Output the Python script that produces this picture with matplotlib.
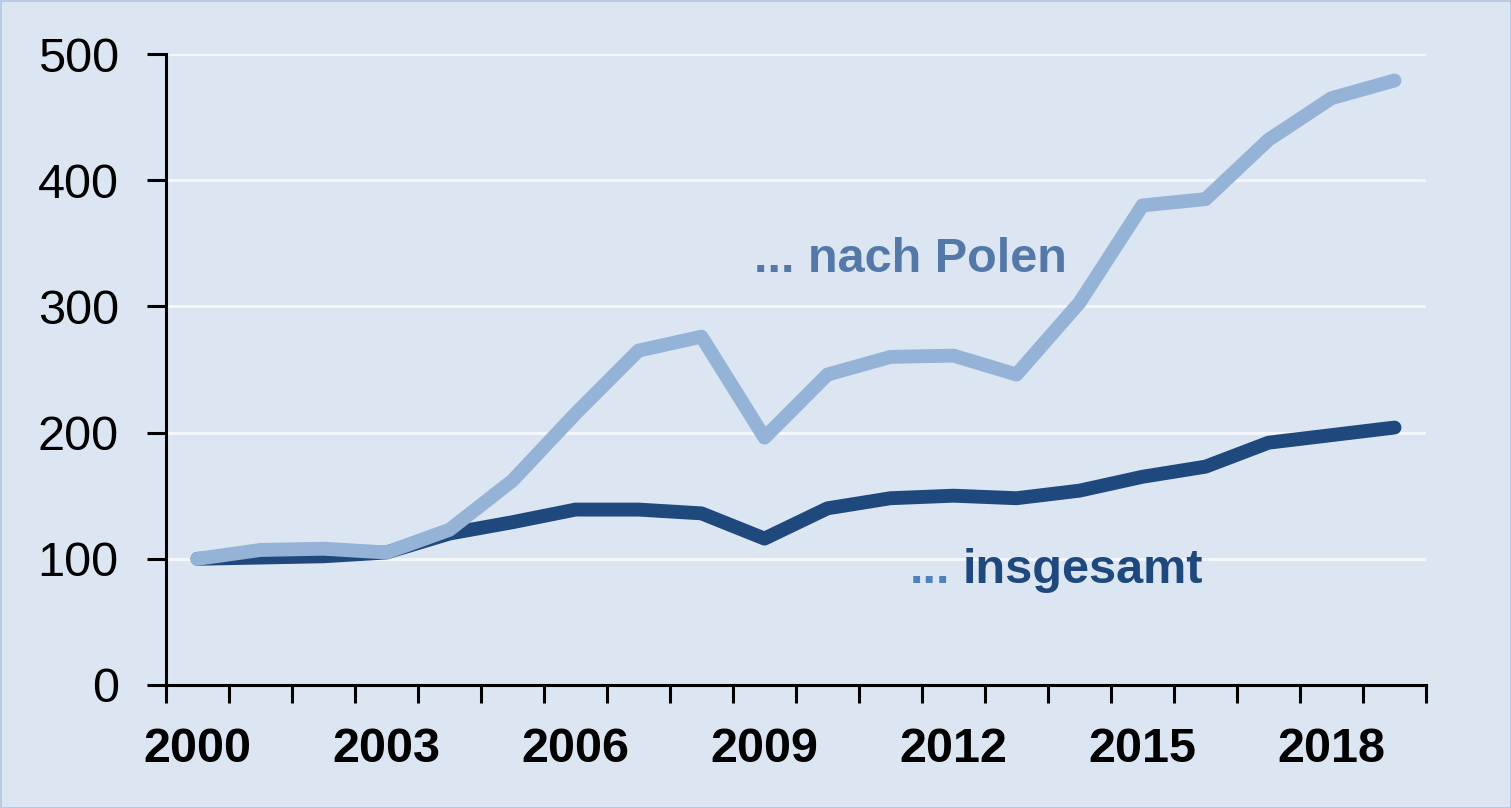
import matplotlib
matplotlib.use("Agg")
import matplotlib.pyplot as plt
from matplotlib.ticker import FixedLocator, NullFormatter

plt.rcParams['font.family'] = ['Liberation Sans', 'DejaVu Sans']

years = list(range(2000, 2020))
polen = [100, 107, 108, 105, 123, 162, 215, 265, 276, 196,
         246, 260, 261, 246, 303, 380, 385, 432, 465, 479]
insgesamt = [100, 101, 102, 105, 120, 129, 139, 139, 136, 116,
             140, 148, 150, 148, 154, 165, 173, 192, 198, 204]
label_years = [2000, 2003, 2006, 2009, 2012, 2015, 2018]
y_ticks = [0, 100, 200, 300, 400, 500]

BG = '#dce6f2'
DARK = '#1f497d'
LIGHT = '#95b3d7'

fig = plt.figure(figsize=(15.11, 8.08), dpi=100)
fig.patch.set_facecolor(BG)
fig.patch.set_edgecolor('#b9cbe2')
fig.patch.set_linewidth(2)
ax = fig.add_axes([166 / 1511, 1 - 685 / 808, (1426 - 166) / 1511, (685 - 54) / 808])
ax.set_facecolor(BG)

x = [y - 2000 for y in years]
ax.plot(x, insgesamt, color=DARK, lw=10, solid_capstyle='round',
        solid_joinstyle='round', zorder=3)
ax.plot(x, polen, color=LIGHT, lw=10, solid_capstyle='round',
        solid_joinstyle='round', zorder=4)

ax.set_xlim(-0.5, len(years) - 0.5)
ax.set_ylim(0, 500)

# y axis
ax.set_yticks(y_ticks)
ax.set_yticklabels([str(v) for v in y_ticks])
ax.tick_params(axis='y', direction='out', length=14, width=2.2, pad=20,
               labelsize=35, colors='black')
for v in y_ticks[1:]:
    ax.axhline(v, color='#f3f6fb', lw=2.2, zorder=1)

# x axis: tick marks between categories, labels at category centres
ax.xaxis.set_major_locator(FixedLocator([i - 0.5 for i in range(len(years) + 1)]))
ax.xaxis.set_major_formatter(NullFormatter())
ax.tick_params(axis='x', which='major', direction='out', length=13, width=2.2)
ax.xaxis.set_minor_locator(FixedLocator([y - 2000 for y in label_years]))
ax.set_xticklabels([str(y) for y in label_years], minor=True,
                   fontsize=35, fontweight='bold')
ax.tick_params(axis='x', which='minor', length=0, pad=30)

for side in ['top', 'right']:
    ax.spines[side].set_visible(False)
for side in ['left', 'bottom']:
    ax.spines[side].set_linewidth(2.2)
    ax.spines[side].set_color('black')

ax.text(11.32, 327, '... nach Polen', fontsize=35, fontweight='bold',
        color='#5479a8', ha='center', va='baseline')
ax.text(12.15, 81, 'insgesamt', fontsize=35, fontweight='bold',
        color=DARK, ha='left', va='baseline')
ax.text(11.95, 81, '...', fontsize=35, fontweight='bold',
        color='#4f81bd', ha='right', va='baseline')

fig.savefig('out.png', dpi=100, facecolor=fig.get_facecolor(),
            edgecolor=fig.get_edgecolor())
